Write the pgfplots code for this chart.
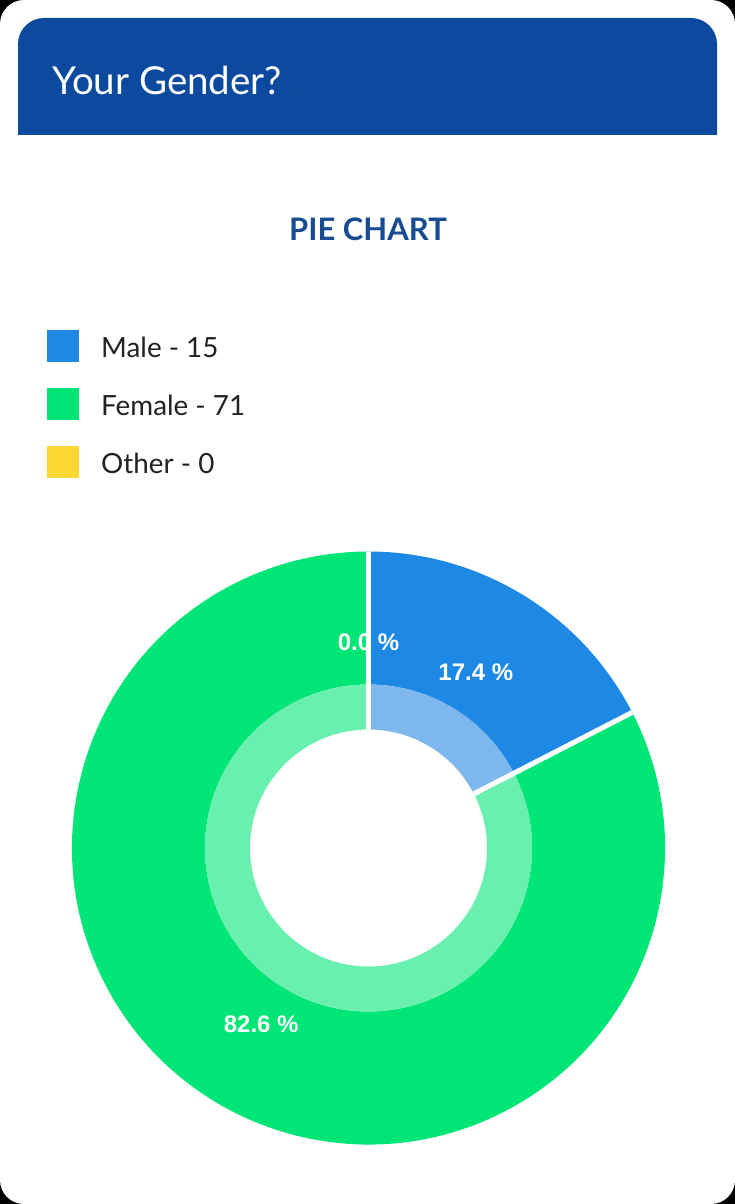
\documentclass[border=0pt]{standalone}
\usepackage{pgfplots}
\pgfplotsset{compat=1.18}
\usepackage{pgfplotstable}
\usepackage{fontspec}
\setmainfont{Lato}
\newfontfamily\labelfont{Liberation Sans}
\definecolor{hdr}{HTML}{0B4A9F}
\definecolor{titleblue}{HTML}{174C91}
\definecolor{male}{HTML}{1E88E5}
\definecolor{malelight}{HTML}{7EB7EE}
\definecolor{female}{HTML}{00E676}
\definecolor{femalelight}{HTML}{69F0AE}
\definecolor{other}{HTML}{FDD835}
\definecolor{legtext}{HTML}{222222}

\pgfplotstableread{
label value
Male 15
Female 71
Other 0
}\gendertable

\begin{document}
\begin{tikzpicture}
\pgfplotstablegetelem{0}{value}\of\gendertable \pgfmathsetmacro\vA{\pgfplotsretval}
\pgfplotstablegetelem{1}{value}\of\gendertable \pgfmathsetmacro\vB{\pgfplotsretval}
\pgfplotstablegetelem{2}{value}\of\gendertable \pgfmathsetmacro\vC{\pgfplotsretval}
\pgfmathsetmacro\tot{\vA+\vB+\vC}
\pgfmathsetmacro\aA{90}
\pgfmathsetmacro\aB{\aA-\vA/\tot*360}
\pgfmathsetmacro\aC{\aB-\vB/\tot*360}
\pgfmathsetmacro\aD{\aC-\vC/\tot*360}
\pgfmathsetmacro\mA{(\aA+\aB)/2}
\pgfmathsetmacro\mB{(\aB+\aC)/2}
\pgfmathsetmacro\mC{(\aC+\aD)/2}
\pgfmathsetmacro\pA{\vA/\tot*100}
\pgfmathsetmacro\pB{\vB/\tot*100}
\pgfmathsetmacro\pC{\vC/\tot*100}
\def\rO{296.5pt}
\def\rM{163.5pt}
\def\rI{118.5pt}
\def\rL{206pt}
\begin{axis}[width=735pt,height=1204pt,scale only axis,
  xmin=0,xmax=735,ymin=0,ymax=1204,y dir=reverse,
  hide axis, clip=false]
% card
\fill[black] (axis cs:0,0) rectangle (axis cs:735,1204);
\fill[white,rounded corners=24pt] (axis cs:0,0) rectangle (axis cs:735,1204);
% header
\fill[hdr] (axis cs:18,135) [rounded corners=26pt] -- (axis cs:18,18) -- (axis cs:717,18) [sharp corners] -- (axis cs:717,135) -- cycle;
\node[anchor=base west,inner sep=0pt,text=white,font=\fontsize{38.5}{40}\selectfont] at (axis cs:52,95) {Your Gender?};
\node[anchor=base,inner sep=0pt,text=titleblue,font=\bfseries\fontsize{31}{32}\selectfont] at (axis cs:368,240) {PIE CHART};
% legend
\fill[male] (axis cs:47,330) rectangle (axis cs:79,362);
\fill[female] (axis cs:47,388) rectangle (axis cs:79,420);
\fill[other] (axis cs:47,446) rectangle (axis cs:79,478);
\node[anchor=base west,inner sep=0pt,text=legtext,font=\fontsize{27.8}{29}\selectfont] at (axis cs:101,357) {Male - \pgfmathprintnumber[assume math mode=true]{\vA}};
\node[anchor=base west,inner sep=0pt,text=legtext,font=\fontsize{27.8}{29}\selectfont] at (axis cs:101,415) {Female - \pgfmathprintnumber[assume math mode=true]{\vB}};
\node[anchor=base west,inner sep=0pt,text=legtext,font=\fontsize{27.8}{29}\selectfont] at (axis cs:101,473) {Other - \pgfmathprintnumber[assume math mode=true]{\vC}};
% donut
\begin{scope}[shift={(axis cs:368.5,848)}]
\fill[male] (\aA:\rO) arc[start angle=\aA,end angle=\aB,radius=\rO] -- (\aB:\rM) arc[start angle=\aB,end angle=\aA,radius=\rM] -- cycle;
\fill[malelight] (\aA:\rM) arc[start angle=\aA,end angle=\aB,radius=\rM] -- (\aB:\rI) arc[start angle=\aB,end angle=\aA,radius=\rI] -- cycle;
\fill[female] (\aB:\rO) arc[start angle=\aB,end angle=\aC,radius=\rO] -- (\aC:\rM) arc[start angle=\aC,end angle=\aB,radius=\rM] -- cycle;
\fill[femalelight] (\aB:\rM) arc[start angle=\aB,end angle=\aC,radius=\rM] -- (\aC:\rI) arc[start angle=\aC,end angle=\aB,radius=\rI] -- cycle;
\node[text=white,font=\labelfont\bfseries\fontsize{24}{24}\selectfont,inner sep=0pt] at (\mA:\rL) {\pgfmathprintnumber[fixed,fixed zerofill,precision=1,assume math mode=true]{\pA}~\%};
\node[text=white,font=\labelfont\bfseries\fontsize{24}{24}\selectfont,inner sep=0pt] at (\mB:\rL) {\pgfmathprintnumber[fixed,fixed zerofill,precision=1,assume math mode=true]{\pB}~\%};
\node[text=white,font=\labelfont\bfseries\fontsize{24}{24}\selectfont,inner sep=0pt] at (\mC:\rL) {\pgfmathprintnumber[fixed,fixed zerofill,precision=1,assume math mode=true]{\pC}~\%};
\draw[white,line width=5pt] (\aA:\rI) -- (\aA:\rO);
\draw[white,line width=5pt] (\aB:\rI) -- (\aB:\rO);
\draw[white,line width=5pt] (\aC:\rI) -- (\aC:\rO);
\end{scope}
\end{axis}
\end{tikzpicture}
\end{document}
